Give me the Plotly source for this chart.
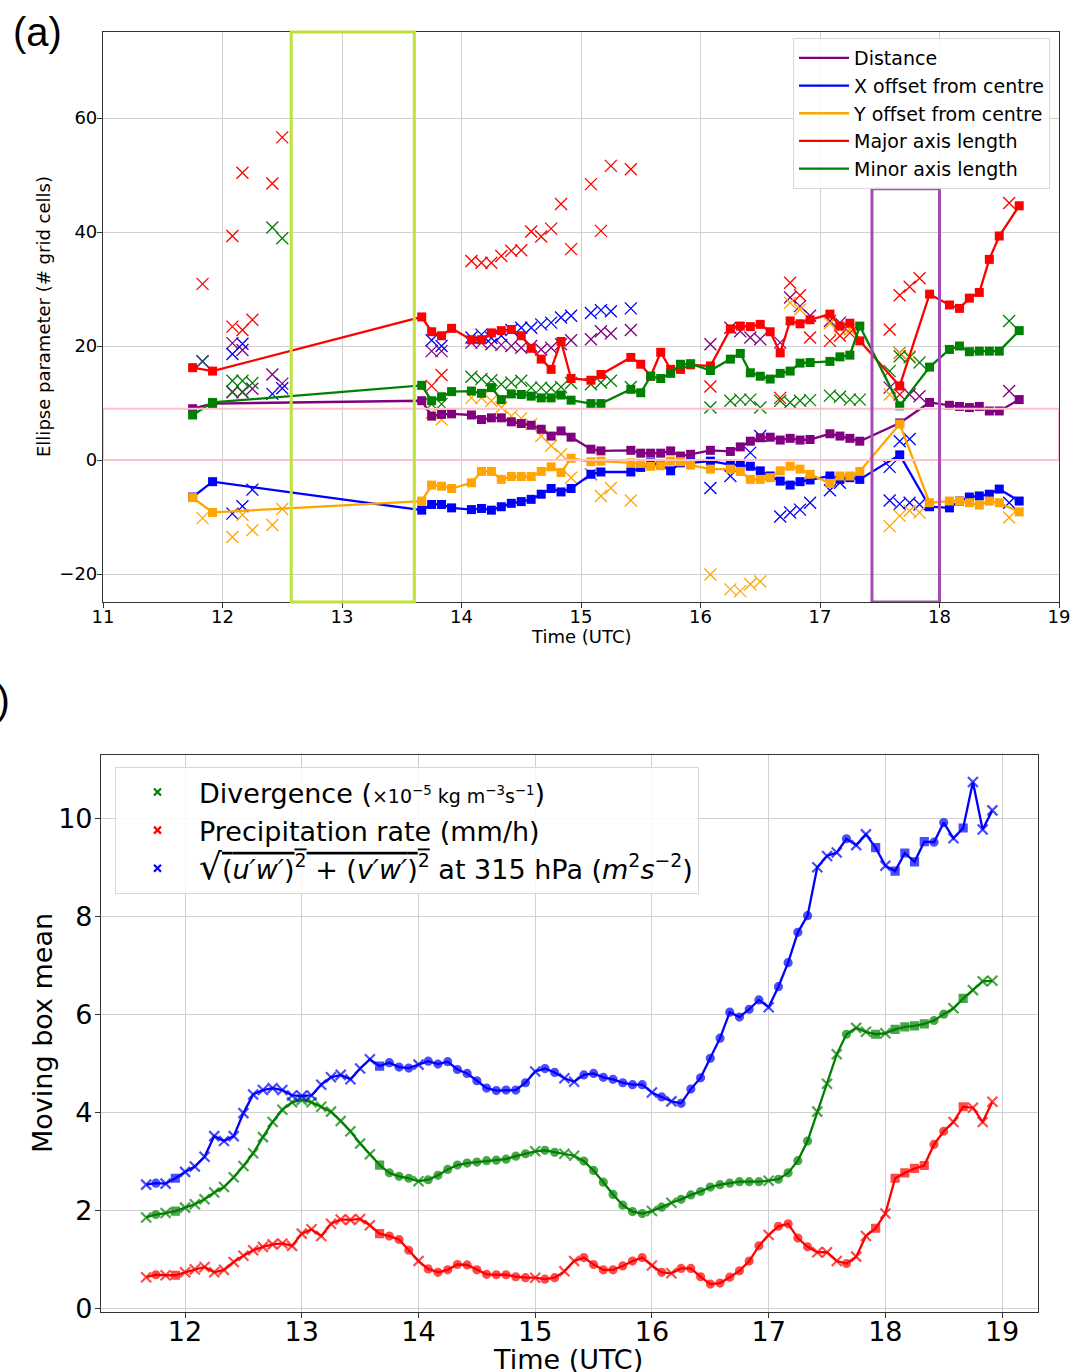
import plotly.graph_objects as go

# ---------------- Panel (a) data ----------------
ell_time = [11.75, 11.917, 13.667, 13.75, 13.833, 13.917, 14.083, 14.167, 14.25, 14.333, 14.417, 14.5,
            14.583, 14.667, 14.75, 14.833, 14.917, 15.083, 15.167, 15.417, 15.5, 15.583, 15.667, 15.75,
            15.833, 15.917, 16.083, 16.25, 16.333, 16.417, 16.5, 16.583, 16.667, 16.75, 16.833, 16.917,
            17.083, 17.167, 17.25, 17.333, 17.667, 17.917, 18.083, 18.167, 18.25, 18.333, 18.417, 18.5, 18.667]
distance = [9.0, 9.9, 10.4, 7.7, 8.0, 8.1, 7.9, 7.1, 7.4, 7.4, 6.7, 6.4, 6.1, 5.4, 4.2, 5.1, 4.0, 1.9, 1.6,
            1.7, 1.2, 1.2, 1.2, 1.6, 0.7, 1.0, 1.7, 1.5, 2.3, 3.3, 3.9, 4.0, 3.5, 3.8, 3.5, 3.6, 4.6, 4.2,
            3.8, 3.3, 6.5, 10.1, 9.6, 9.4, 9.2, 9.4, 8.6, 8.6, 10.6]
x_offset = [-6.5, -3.8, -8.8, -7.8, -7.8, -8.4, -8.7, -8.5, -8.8, -8.2, -7.6, -7.3, -6.9, -6.0, -5.0, -5.6,
            -5.0, -2.5, -2.1, -2.1, -1.3, -0.5, -0.8, -1.9, -0.5, -0.5, -0.2, -0.8, -0.9, -1.1, -1.9, -2.8,
            -3.7, -4.4, -3.8, -3.5, -2.8, -3.4, -3.1, -3.4, 0.9, -8.2, -8.4, -7.2, -6.5, -6.3, -6.0, -5.1, -7.2]
y_offset = [-6.6, -9.2, -7.2, -4.4, -4.6, -5.0, -4.0, -2.0, -2.0, -3.4, -2.9, -2.9, -2.9, -2.0, -1.2, -2.2,
            0.3, -0.3, -0.2, -0.5, -0.6, -1.1, -1.0, -0.2, -0.3, -0.9, -1.6, -1.6, -2.0, -3.4, -3.4, -3.1,
            -1.9, -1.1, -1.6, -2.5, -4.1, -2.8, -2.8, -2.0, 6.3, -7.5, -7.2, -7.2, -7.5, -7.9, -7.2, -7.5, -9.1]
major = [16.2, 15.6, 25.1, 22.5, 21.8, 23.1, 21.1, 21.1, 22.3, 22.7, 22.9, 21.8, 19.6, 17.7, 15.9, 20.8,
         14.3, 14.0, 15.0, 18.0, 16.8, 14.7, 18.9, 15.9, 15.9, 16.7, 16.5, 23.0, 23.5, 23.4, 23.8, 22.5,
         18.8, 24.4, 23.9, 24.6, 25.6, 23.5, 24.0, 20.9, 13.0, 29.1, 27.2, 26.6, 28.4, 29.4, 35.2, 39.3, 44.6]
minor = [7.9, 10.1, 13.1, 10.4, 11.1, 12.0, 12.1, 11.7, 12.7, 10.6, 11.6, 11.5, 11.2, 10.9, 10.9, 11.4,
         10.5, 9.9, 9.9, 12.4, 11.8, 14.7, 14.3, 15.2, 16.8, 16.9, 15.7, 17.7, 18.7, 15.3, 14.7, 14.2,
         15.2, 15.6, 17.0, 17.1, 17.3, 18.1, 18.4, 23.5, 9.5, 16.3, 19.4, 20.0, 19.0, 19.1, 19.1, 19.1, 22.7]

# other (non-tracked) ellipses, shown as crosses
distance_other_t = [11.833, 12.083, 12.167, 12.083, 12.167, 12.25, 12.417, 12.5, 13.75, 13.833, 14.083, 14.167,
                    14.25, 14.333, 14.417, 14.5, 14.583, 14.667, 14.75, 14.833, 14.917, 15.083, 15.167, 15.25,
                    15.417, 16.083, 16.25, 16.333, 16.417, 16.5, 16.667, 16.75, 16.833, 16.917, 17.083, 17.167,
                    17.583, 17.667, 17.75, 17.833, 18.583]
distance_other_v = [17.3, 20.5, 19.3, 11.9, 11.9, 12.5, 15.0, 13.4, 19.1, 19.1, 20.6, 20.6,
                    20.3, 20.2, 20.0, 19.7, 20.0, 19.4, 19.7, 20.3, 21.0, 21.2, 22.6, 22.2,
                    22.8, 20.3, 23.2, 22.6, 21.5, 21.2, 20.6, 28.5, 27.0, 25.3, 24.4, 24.1,
                    12.7, 18.8, 11.5, 11.2, 12.1]
x_other_t = [11.833, 12.083, 12.167, 12.417, 12.5, 12.25, 12.167, 12.083, 13.75, 13.833, 14.083, 14.167,
             14.25, 14.333, 14.417, 14.5, 14.583, 14.667, 14.75, 14.833, 14.917, 15.083, 15.167, 15.25,
             15.417, 15.083, 16.083, 16.25, 16.417, 16.5, 16.667, 16.75, 16.833, 16.917, 17.083, 17.167,
             17.583, 17.667, 17.75, 17.583, 17.667, 17.75, 17.833, 18.583]
x_other_v = [17.3, 18.6, 20.4, 11.6, 12.6, -5.2, -8.1, -9.4, 21.0, 20.0, 21.5, 22.0,
             21.4, 21.8, 22.8, 23.2, 23.2, 23.8, 24.1, 25.0, 25.3, 25.8, 26.3, 26.1,
             26.6, -2.5, -4.9, -2.8, 1.3, 4.2, -9.9, -9.2, -8.7, -7.5, -5.3, -4.0,
             -1.2, 3.3, 3.7, -7.1, -7.7, -7.5, -7.8, -7.5]
y_other_t = [11.833, 12.083, 12.167, 12.25, 12.417, 12.5, 13.75, 13.833, 14.083, 14.167, 14.25, 14.333,
             14.417, 14.5, 14.583, 14.667, 14.75, 14.833, 14.917, 15.083, 15.167, 15.25, 15.417, 16.083,
             16.25, 16.333, 16.417, 16.5, 16.75, 16.833, 17.083, 17.167, 17.25, 17.583, 17.667, 17.75,
             17.583, 17.667, 17.75, 17.833, 18.583]
y_other_v = [-10.2, -13.5, -9.6, -12.3, -11.4, -8.6, 8.3, 7.1, 10.9, 10.9, 10.4, 9.2,
             7.7, 7.3, 6.3, 4.2, 2.5, 1.0, -3.1, -2.5, -6.3, -4.9, -7.1, -20.1,
             -22.7, -23.0, -21.8, -21.3, 27.6, 26.4, 24.0, 23.0, 22.9, 11.5, 18.8, 18.2,
             -11.6, -9.8, -8.9, -9.2, -10.1]
major_other_t = [11.833, 12.083, 12.083, 12.167, 12.167, 12.25, 12.417, 12.5, 13.75, 13.833, 14.083, 14.167,
                 14.25, 14.333, 14.417, 14.5, 14.583, 14.667, 14.75, 14.833, 14.917, 15.083, 15.167, 15.25,
                 15.417, 16.083, 16.667, 16.75, 16.833, 16.917, 17.083, 17.167, 17.25, 17.583, 17.667,
                 17.75, 17.833, 17.667, 18.583]
major_other_v = [30.9, 39.3, 23.4, 50.4, 22.8, 24.6, 48.5, 56.6, 13.0, 14.9, 34.9, 34.6,
                 34.6, 35.8, 36.7, 36.8, 40.1, 39.2, 40.6, 44.9, 37.0, 48.4, 40.2, 51.6,
                 51.0, 12.9, 10.9, 31.1, 28.9, 21.5, 20.9, 21.8, 22.3, 22.9, 28.9,
                 30.4, 31.9, 11.5, 45.1]
minor_other_t = [11.833, 12.083, 12.167, 12.25, 12.083, 12.167, 12.417, 12.5, 13.75, 13.833, 14.083, 14.167,
                 14.25, 14.333, 14.417, 14.5, 14.583, 14.667, 14.75, 14.833, 14.917, 15.083, 15.167, 15.25,
                 15.417, 16.083, 16.25, 16.333, 16.417, 16.5, 16.667, 16.75, 16.833, 16.917, 17.083, 17.167,
                 17.25, 17.333, 17.583, 17.667, 17.75, 17.833, 18.583]
minor_other_v = [17.3, 13.9, 13.9, 13.5, 12.0, 12.0, 40.8, 38.9, 9.8, 9.8, 14.6, 14.2,
                 14.0, 13.3, 13.6, 13.9, 12.7, 12.7, 12.6, 12.8, 13.5, 13.3, 13.6, 13.9,
                 12.8, 9.2, 10.4, 10.6, 10.6, 9.2, 10.4, 10.1, 10.4, 10.5, 11.3, 11.1,
                 10.6, 10.6, 15.6, 18.2, 18.0, 17.1, 24.4]

# highlighted boxes in panel (a)
box_green_t = [12.575, 13.605]
box_purple_t = [17.435, 18.0]
box_purple_top = 47.6
box_pink_v = [0.0, 9.0]

# ---------------- Panel (b) data ----------------
b_start, b_step, b_count = 11.667, 1 / 12, 88
b_time = [b_start + i * b_step for i in range(b_count)]
divergence = [1.85, 1.91, 1.94, 1.98, 2.05, 2.12, 2.22, 2.36, 2.47, 2.67, 2.90, 3.16, 3.49, 3.80, 4.05, 4.20,
              4.25, 4.20, 4.11, 4.01, 3.82, 3.61, 3.36, 3.14, 2.92, 2.76, 2.69, 2.65, 2.59, 2.62, 2.71, 2.83,
              2.92, 2.96, 2.98, 3.01, 3.02, 3.04, 3.10, 3.15, 3.20, 3.22, 3.18, 3.15, 3.11, 3.00, 2.81, 2.57,
              2.32, 2.10, 1.97, 1.93, 1.98, 2.06, 2.15, 2.22, 2.31, 2.38, 2.47, 2.52, 2.55, 2.58, 2.58, 2.58,
              2.60, 2.63, 2.76, 3.01, 3.41, 4.01, 4.58, 5.18, 5.59, 5.72, 5.64, 5.59, 5.61, 5.69, 5.74, 5.76,
              5.80, 5.87, 6.00, 6.12, 6.32, 6.49, 6.67, 6.68]
precip = [0.63, 0.68, 0.67, 0.67, 0.73, 0.79, 0.84, 0.73, 0.78, 0.94, 1.07, 1.18, 1.25, 1.30, 1.32, 1.27,
          1.52, 1.61, 1.47, 1.72, 1.81, 1.80, 1.82, 1.69, 1.52, 1.47, 1.40, 1.18, 0.96, 0.80, 0.73, 0.78,
          0.89, 0.88, 0.78, 0.69, 0.68, 0.68, 0.64, 0.62, 0.62, 0.59, 0.62, 0.75, 0.96, 1.03, 0.89, 0.78,
          0.78, 0.86, 0.96, 1.03, 0.87, 0.73, 0.71, 0.81, 0.81, 0.64, 0.49, 0.51, 0.63, 0.76, 0.96, 1.27,
          1.49, 1.67, 1.72, 1.43, 1.25, 1.14, 1.14, 0.96, 0.91, 1.05, 1.47, 1.63, 1.93, 2.65, 2.76, 2.85,
          2.91, 3.34, 3.61, 3.80, 4.11, 4.09, 3.80, 4.21]
momentum_flux = [2.52, 2.55, 2.54, 2.65, 2.78, 2.89, 3.09, 3.51, 3.41, 3.51, 3.98, 4.36, 4.45, 4.49, 4.45, 4.34,
                 4.33, 4.34, 4.56, 4.71, 4.76, 4.67, 4.89, 5.08, 4.94, 5.01, 4.92, 4.90, 4.97, 5.04, 4.98, 5.03,
                 4.87, 4.79, 4.64, 4.49, 4.44, 4.45, 4.45, 4.60, 4.83, 4.89, 4.81, 4.69, 4.62, 4.76, 4.79, 4.71,
                 4.67, 4.60, 4.56, 4.56, 4.40, 4.31, 4.22, 4.18, 4.47, 4.70, 5.10, 5.51, 6.04, 5.94, 6.10, 6.29,
                 6.14, 6.56, 7.05, 7.67, 8.01, 9.00, 9.23, 9.30, 9.58, 9.45, 9.67, 9.40, 9.03, 8.92, 9.29, 9.11,
                 9.52, 9.51, 9.91, 9.59, 9.80, 10.74, 9.77, 10.16]
# marker type per time step (x = cross, o = circle, s = square)
b_kind = "xoxs" + "x" * 20 + "sooo" + "x" + "o" * 11 + "xooxx" + "o" * 7 + "xox" + "o" * 9 + "x" + "oooo" \
         + "xxxoxx" + "sxssss" + "ooxsxxx"

# ---------------- styling ----------------
PURPLE, BLUE, ORANGE, RED, GREEN = "#800080", "#0000ff", "#ffa500", "#ff0000", "#008000"
FONT = "DejaVu Sans"
W, H = 1072, 1372

fig = go.Figure()

top_series = [
    ("Distance", distance, distance_other_t, distance_other_v, PURPLE),
    ("X offset from centre", x_offset, x_other_t, x_other_v, BLUE),
    ("Y offset from centre", y_offset, y_other_t, y_other_v, ORANGE),
    ("Major axis length", major, major_other_t, major_other_v, RED),
    ("Minor axis length", minor, minor_other_t, minor_other_v, GREEN),
]

for name, vals, ot, ov, col in top_series:
    fig.add_trace(go.Scatter(x=ot, y=ov, mode="markers", xaxis="x", yaxis="y", showlegend=False,
                             marker=dict(symbol="x-thin", size=12, color=col, line=dict(color=col, width=1.3)),
                             hoverinfo="skip"))
for name, vals, ot, ov, col in top_series:
    fig.add_trace(go.Scatter(x=ell_time, y=vals, mode="lines+markers", xaxis="x", yaxis="y", showlegend=False,
                             line=dict(color=col, width=2.3),
                             marker=dict(symbol="square", size=9, color=col)))
for name, vals, ot, ov, col in top_series:
    fig.add_trace(go.Scatter(x=[None], y=[None], mode="lines", name=name, xaxis="x", yaxis="y",
                             line=dict(color=col, width=2.3), legend="legend"))

sym_map = {"x": "x-thin", "o": "circle", "s": "square"}
size_map = {"x": 10, "o": 7, "s": 7}
b_symbols = [sym_map[k] for k in b_kind]
b_sizes = [size_map[k] for k in b_kind]

bottom_series = [
    ("Divergence (<span style='font-size:19px'>×10<sup>−5</sup> kg m<sup>−3</sup>s<sup>−1</sup></span>)",
     divergence, GREEN),
    ("Precipitation rate (mm/h)", precip, RED),
    ("<span style='font-size:36px'>√</span><span style='text-decoration:overline'>(<i>u′w′</i>)<sup>2</sup>"
     " + (<i>v′w′</i>)<sup>2</sup></span> at 315 hPa (<i>m</i><sup>2</sup><i>s</i><sup>−2</sup>)",
     momentum_flux, BLUE),
]
for name, vals, col in bottom_series:
    fig.add_trace(go.Scatter(x=b_time, y=vals, mode="lines+markers", xaxis="x2", yaxis="y2", showlegend=False,
                             line=dict(color=col, width=2.3),
                             marker=dict(symbol=b_symbols, size=b_sizes, color=col,
                                         line=dict(color=col, width=2.2))))
for name, vals, col in bottom_series:
    fig.add_trace(go.Scatter(x=[None], y=[None], mode="markers", name=name, xaxis="x2", yaxis="y2",
                             marker=dict(symbol="x-thin", size=7, color=col, line=dict(color=col, width=2.2)),
                             legend="legend2"))

TOP_YR = [-24.91, 75.09]
axis_common = dict(showline=True, mirror=True, linecolor="#333333", linewidth=1.2, ticks="outside",
                   ticklen=5, tickcolor="#333333", showgrid=True, gridcolor="#d0d0d0", gridwidth=1,
                   zeroline=False, automargin=False)


def label(text, x, y, size, angle=0):
    return dict(text=text, xref="paper", yref="paper", x=x / W, y=1 - y / H, xanchor="center",
                yanchor="middle", showarrow=False, textangle=angle, font=dict(size=size, family=FONT))


fig.update_layout(
    width=W, height=H, margin=dict(l=0, r=0, t=0, b=0, autoexpand=False),
    paper_bgcolor="white", plot_bgcolor="white",
    font=dict(family=FONT, color="black"),
    xaxis=dict(domain=[103 / W, 1059 / W], range=[11, 19], dtick=1, anchor="y",
               tickfont=dict(size=18), ticklabelstandoff=-7, **axis_common),
    yaxis=dict(domain=[1 - 602 / H, 1 - 32 / H], range=TOP_YR, tickvals=[-20, 0, 20, 40, 60], anchor="x",
               tickfont=dict(size=18), ticklabelstandoff=-4, **axis_common),
    xaxis2=dict(domain=[101 / W, 1038 / W], range=[11.28, 19.308], dtick=1, anchor="y2",
                tickfont=dict(size=27), ticklabelstandoff=-10, **axis_common),
    yaxis2=dict(domain=[1 - 1312 / H, 1 - 755 / H], range=[-0.08, 11.29], dtick=2, anchor="x2",
                tickfont=dict(size=27), ticklabelstandoff=-3, **axis_common),
    legend=dict(x=793 / W, y=1 - 38 / H, xanchor="left", yanchor="top", bgcolor="rgba(255,255,255,0.85)",
                bordercolor="#d8d8d8", borderwidth=1, font=dict(size=19), tracegroupgap=0, itemwidth=50),
    legend2=dict(x=115 / W, y=1 - 767 / H, xanchor="left", yanchor="top", bgcolor="rgba(255,255,255,0.85)",
                 bordercolor="#d8d8d8", borderwidth=1, font=dict(size=27), itemwidth=73),
    shapes=[
        dict(type="rect", xref="x", yref="y", x0=11, x1=19, y0=box_pink_v[0], y1=box_pink_v[1],
             line=dict(color="#ffc0cb", width=2)),
        dict(type="rect", xref="x", yref="y domain", x0=box_green_t[0], x1=box_green_t[1], y0=0, y1=1,
             line=dict(color="#bde33a", width=3)),
        dict(type="rect", xref="x", yref="y", x0=box_purple_t[0], x1=box_purple_t[1], y0=TOP_YR[0],
             y1=box_purple_top, line=dict(color="#a54bb4", width=3)),
    ],
    annotations=[
        dict(text="(a)", xref="paper", yref="paper", x=37 / W, y=1 - 32 / H, xanchor="center",
             yanchor="middle", showarrow=False, font=dict(size=40, family="Liberation Sans")),
        dict(text="(b)", xref="paper", yref="paper", x=12 / W, y=1 - 700 / H, xanchor="right",
             yanchor="middle", showarrow=False, font=dict(size=40, family="Liberation Sans")),
        label("Time (UTC)", 581, 636, 18),
        label("Ellipse parameter (# grid cells)", 43, 317, 18, -90),
        label("Time (UTC)", 568, 1359, 27),
        label("Moving box mean", 42, 1033, 27, -90),
    ],
)

fig.write_html("out.html")
